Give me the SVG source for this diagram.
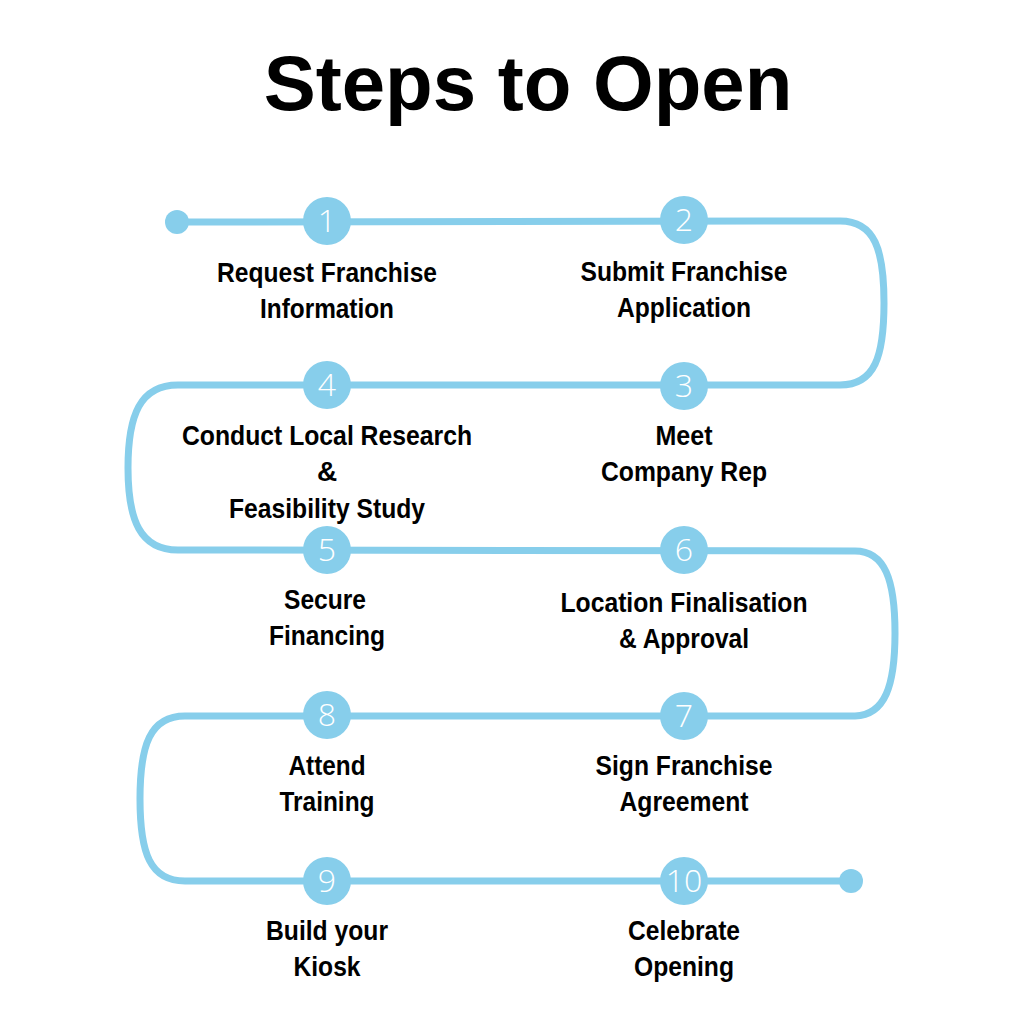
<svg xmlns="http://www.w3.org/2000/svg" width="1024" height="1024" viewBox="0 0 1024 1024">
<style>
.path{fill:none;stroke:#87CEEB;stroke-width:7;stroke-linecap:round;stroke-linejoin:round}
.dot{fill:#87CEEB}
.num{font-family:"Open Sans","Noto Sans",sans-serif;font-weight:300;font-size:32px;fill:#fff;text-anchor:middle}
.lbl{font-family:"Liberation Sans",Arial,sans-serif;font-weight:bold;font-size:28px;fill:#000;text-anchor:middle}
.title{font-family:"Liberation Sans",Arial,sans-serif;font-weight:bold;font-size:78px;fill:#000;text-anchor:middle}
</style>
<rect width="1024" height="1024" fill="#fff"/>
<text class="title" x="528" y="110">Steps to Open</text>
<g id="connectors">
<path class="path" d="M177,222 L840,221 C875,221 884,250 884,303 C884,356 875,385 840,385 L178,385 C140,385 128,415 128,468 C128,520 140,550 178,550 L855,551 C885,551 895,580 895,633 C895,686 885,715 855,716 L185,716 C150,716 140,745 140,799 C140,853 150,881 185,881 L851,881"/>
<circle class="dot" cx="177" cy="222" r="12"/>
<circle class="dot" cx="851" cy="881" r="12"/>
</g>
<g id="step1"><circle class="dot" cx="327" cy="221" r="24"/><text class="num" x="327" y="232">1</text>
<text class="lbl" x="327" y="282" textLength="220" lengthAdjust="spacingAndGlyphs">Request Franchise</text>
<text class="lbl" x="327" y="318" textLength="134" lengthAdjust="spacingAndGlyphs">Information</text></g>
<g id="step2"><circle class="dot" cx="684" cy="220" r="24"/><text class="num" x="684" y="231">2</text>
<text class="lbl" x="684" y="281" textLength="207" lengthAdjust="spacingAndGlyphs">Submit Franchise</text>
<text class="lbl" x="684" y="317" textLength="134" lengthAdjust="spacingAndGlyphs">Application</text></g>
<g id="step3"><circle class="dot" cx="684" cy="386" r="24"/><text class="num" x="684" y="397">3</text>
<text class="lbl" x="684" y="445" textLength="57" lengthAdjust="spacingAndGlyphs">Meet</text>
<text class="lbl" x="684" y="481" textLength="166" lengthAdjust="spacingAndGlyphs">Company Rep</text></g>
<g id="step4"><circle class="dot" cx="327" cy="385" r="24"/><text class="num" x="327" y="396">4</text>
<text class="lbl" x="327" y="445" textLength="290" lengthAdjust="spacingAndGlyphs">Conduct Local Research</text>
<text class="lbl" x="327" y="481">&amp;</text>
<text class="lbl" x="327" y="518" textLength="196" lengthAdjust="spacingAndGlyphs">Feasibility Study</text></g>
<g id="step5"><circle class="dot" cx="327" cy="550" r="24"/><text class="num" x="327" y="561">5</text>
<text class="lbl" x="325" y="609" textLength="82" lengthAdjust="spacingAndGlyphs">Secure</text>
<text class="lbl" x="327" y="645" textLength="116" lengthAdjust="spacingAndGlyphs">Financing</text></g>
<g id="step6"><circle class="dot" cx="684" cy="550" r="24"/><text class="num" x="684" y="561">6</text>
<text class="lbl" x="684" y="612" textLength="247" lengthAdjust="spacingAndGlyphs">Location Finalisation</text>
<text class="lbl" x="684" y="648" textLength="130" lengthAdjust="spacingAndGlyphs">&amp; Approval</text></g>
<g id="step7"><circle class="dot" cx="684" cy="716" r="24"/><text class="num" x="684" y="727">7</text>
<text class="lbl" x="684" y="775" textLength="177" lengthAdjust="spacingAndGlyphs">Sign Franchise</text>
<text class="lbl" x="684" y="811" textLength="129" lengthAdjust="spacingAndGlyphs">Agreement</text></g>
<g id="step8"><circle class="dot" cx="327" cy="715" r="24"/><text class="num" x="327" y="726">8</text>
<text class="lbl" x="327" y="775" textLength="77" lengthAdjust="spacingAndGlyphs">Attend</text>
<text class="lbl" x="327" y="811" textLength="95" lengthAdjust="spacingAndGlyphs">Training</text></g>
<g id="step9"><circle class="dot" cx="327" cy="881" r="24"/><text class="num" x="327" y="892">9</text>
<text class="lbl" x="327" y="940" textLength="122" lengthAdjust="spacingAndGlyphs">Build your</text>
<text class="lbl" x="327" y="976" textLength="67" lengthAdjust="spacingAndGlyphs">Kiosk</text></g>
<g id="step10"><circle class="dot" cx="684" cy="881" r="24"/><text class="num" x="684" y="892">10</text>
<text class="lbl" x="684" y="940" textLength="112" lengthAdjust="spacingAndGlyphs">Celebrate</text>
<text class="lbl" x="684" y="976" textLength="100" lengthAdjust="spacingAndGlyphs">Opening</text></g>
</svg>
